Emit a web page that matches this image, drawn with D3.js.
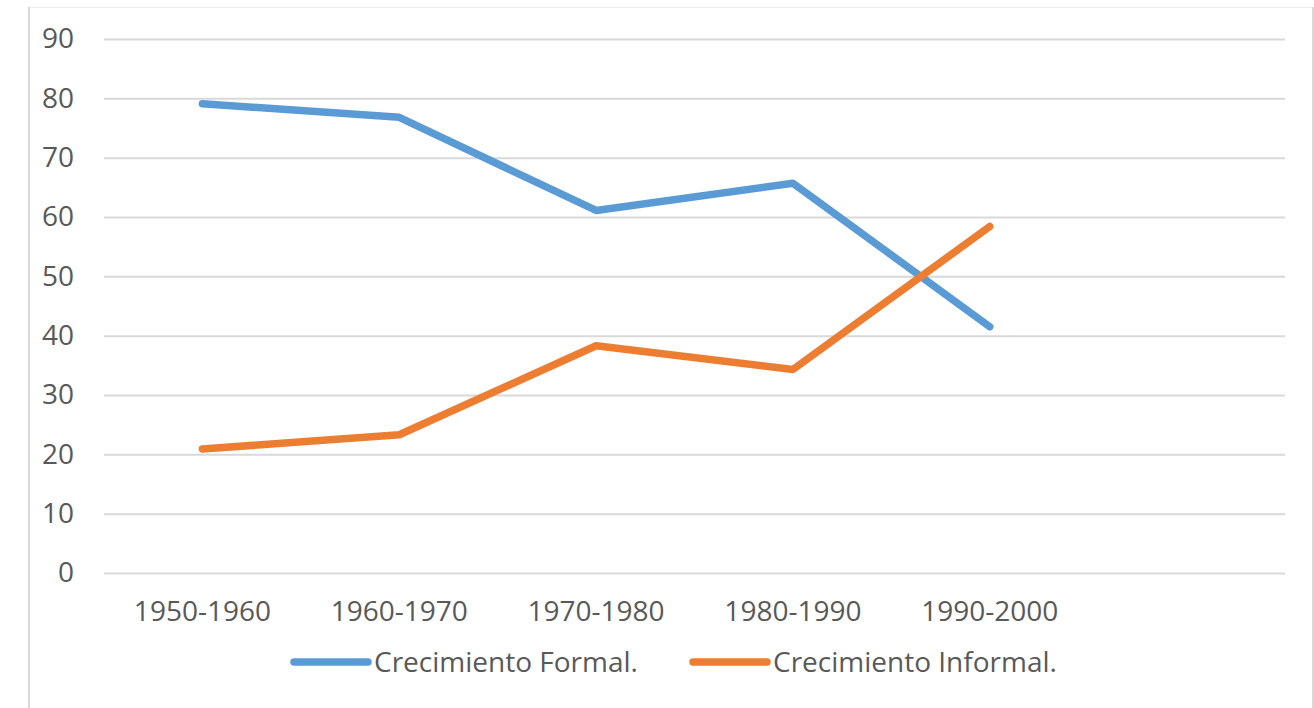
<!DOCTYPE html>
<html><head><meta charset="utf-8">
<script src="https://cdn.jsdelivr.net/npm/d3@7"></script>
<style>html,body{margin:0;padding:0;background:#fff;}svg{display:block;}</style>
</head><body>
<script>
const categories = ["1950-1960","1960-1970","1970-1980","1980-1990","1990-2000"];
const formal = [79.1, 76.8, 61.1, 65.7, 41.5];
const informal = [20.9, 23.3, 38.3, 34.3, 58.4];
const yTicks = [0,10,20,30,40,50,60,70,80,90];
const seriesNames = ["Crecimiento Formal.", "Crecimiento Informal."];
const colors = ["#5b9bd5", "#ed7d31"];

const W = 1314, H = 708;
const svg = d3.select("body").append("svg").attr("width", W).attr("height", H);
const font = "'Open Sans', sans-serif";

// frame
svg.append("line").attr("x1",29).attr("x2",1313).attr("y1",7.5).attr("y2",7.5).attr("stroke","#eeeeee").attr("stroke-width",1);
svg.append("line").attr("x1",29).attr("x2",29).attr("y1",7).attr("y2",H).attr("stroke","#d9d9d9").attr("stroke-width",2);
svg.append("line").attr("x1",1313).attr("x2",1313).attr("y1",7).attr("y2",H).attr("stroke","#d9d9d9").attr("stroke-width",2);

const left = 104, right = 1285;
const x = d3.scaleBand().domain(d3.range(categories.length + 1)).range([left, right]);
const y = d3.scaleLinear().domain([0, 90]).range([573, 39]);

// gridlines + y labels
const yAxis = d3.axisLeft(y).tickValues(yTicks).tickSize(-(right-left)).tickPadding(30);
const gy = svg.append("g").attr("transform", `translate(${left},0)`).call(yAxis);
gy.select(".domain").remove();
gy.selectAll(".tick line").attr("stroke","#d9d9d9").attr("stroke-width",2);
gy.selectAll(".tick text").attr("fill","#595959").style("font-family",font).style("font-size","28px").attr("x",-30);

// x labels
const xAxis = d3.axisBottom(x).tickValues(d3.range(categories.length)).tickFormat(i => categories[i]).tickSize(0).tickPadding(28);
const gx = svg.append("g").attr("transform", `translate(0,${y(0)})`).call(xAxis);
gx.select(".domain").remove();
gx.selectAll(".tick text").attr("fill","#595959").style("font-family",font).style("font-size","28px");

const cx = i => x(i) + x.bandwidth()/2;
const line = d3.line().x((d,i) => cx(i)).y(d => y(d));
[formal, informal].forEach((s, k) => {
  svg.append("path").datum(s).attr("d", line).attr("fill","none")
    .attr("stroke", colors[k]).attr("stroke-width", 7.5)
    .attr("stroke-linecap","round").attr("stroke-linejoin","round");
});

// legend
const legendItems = [{x0:294, name:seriesNames[0], c:colors[0]},{x0:693, name:seriesNames[1], c:colors[1]}];
const ly = 662;
legendItems.forEach(it => {
  svg.append("line").attr("x1", it.x0).attr("x2", it.x0+74).attr("y1", ly).attr("y2", ly)
    .attr("stroke", it.c).attr("stroke-width", 7.5).attr("stroke-linecap","round");
  svg.append("text").attr("x", it.x0+80).attr("y", ly).attr("dy","0.35em")
    .attr("fill","#595959").style("font-family",font).style("font-size","28px").text(it.name);
});
</script>
</body></html>
